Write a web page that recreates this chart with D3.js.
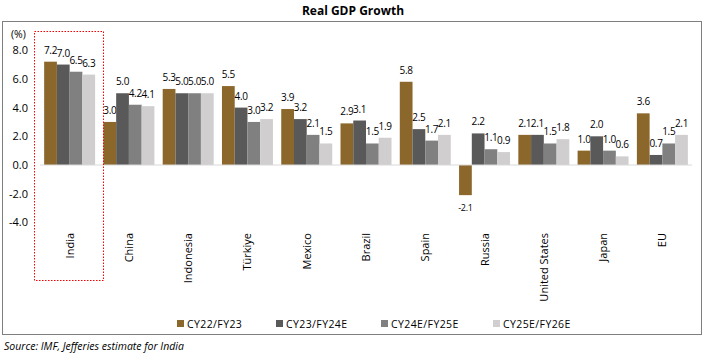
<!doctype html>
<html lang="en">
<head>
<meta charset="UTF-8">
<title>Real GDP Growth</title>
<script src="https://cdn.jsdelivr.net/npm/d3@7"></script>
<style>
body { margin: 0; background: #fff; }
svg text { font-family: "Open Sans", "Noto Sans", sans-serif; fill: #000; }
</style>
</head>
<body>
<script>
var countries = ["India", "China", "Indonesia", "Türkiye", "Mexico", "Brazil", "Spain", "Russia", "United States", "Japan", "EU"];
var seriesNames = ["CY22/FY23", "CY23/FY24E", "CY24E/FY25E", "CY25E/FY26E"];
var cy22 = [7.2, 3.0, 5.3, 5.5, 3.9, 2.9, 5.8, -2.1, 2.1, 1.0, 3.6];
var cy23 = [7.0, 5.0, 5.0, 4.0, 3.2, 3.1, 2.5, 2.2, 2.1, 2.0, 0.7];
var cy24 = [6.5, 4.2, 5.0, 3.0, 2.1, 1.5, 1.7, 1.1, 1.5, 1.0, 1.5];
var cy25 = [6.3, 4.1, 5.0, 3.2, 1.5, 1.9, 2.1, 0.9, 1.8, 0.6, 2.1];
var yTicks = [-4, -2, 0, 2, 4, 6, 8];
var colors = ["#8c672c", "#595959", "#808080", "#d0cece"];

var series = [cy22, cy23, cy24, cy25];
var w = 706, h = 360;
// plain hyphen for negatives, like the original
var fmt = d3.formatLocale({decimal: ".", thousands: ",", grouping: [3], currency: ["", ""], minus: "-"}).format(".1f");

var svg = d3.select("body").append("svg").attr("width", w).attr("height", h);

// outer frame
svg.append("rect").attr("x", 2.5).attr("y", 21.5).attr("width", 699).attr("height", 313)
  .attr("fill", "none").attr("stroke", "#7f7f7f").attr("stroke-width", 1);

svg.append("text").attr("x", 353).attr("y", 15).attr("text-anchor", "middle")
  .attr("font-size", "12px").attr("font-weight", "bold").text("Real GDP Growth");

var x0 = d3.scaleBand().domain(countries).range([40, 692]).paddingInner(0.14).paddingOuter(0.07);
var x1 = d3.scaleBand().domain(d3.range(4)).range([0, x0.bandwidth()]);
var y = d3.scaleLinear().domain([-4, 8]).range([222.4, 50.2]);

// y axis labels
svg.selectAll(".ytick").data(yTicks).enter().append("text")
  .attr("x", 28).attr("y", function(d){ return y(d) + 4; })
  .attr("text-anchor", "end").attr("font-size", "11px")
  .text(function(d){ return fmt(d); });
svg.append("text").attr("x", 11).attr("y", 38).attr("font-size", "10.5px").text("(%)");

// bars
var groups = svg.selectAll(".grp").data(countries).enter().append("g")
  .attr("transform", function(d){ return "translate(" + x0(d) + ",0)"; });

groups.each(function(c, ci){
  var g = d3.select(this);
  series.forEach(function(s, si){
    var v = s[ci];
    g.append("rect")
      .attr("x", x1(si)).attr("width", x1.bandwidth())
      .attr("y", y(Math.max(0, v)))
      .attr("height", Math.abs(y(v) - y(0)))
      .attr("fill", colors[si]);
    g.append("text")
      .attr("x", x1(si) + x1.bandwidth() / 2)
      .attr("y", v >= 0 ? y(v) - 8 : y(v) + 16)
      .attr("text-anchor", "middle").attr("font-size", v >= 0 ? "10px" : "9px")
      .attr("letter-spacing", "-0.3px")
      .text(fmt(v));
  });
});

// zero line
svg.append("line").attr("x1", 40).attr("x2", 692).attr("y1", y(0)).attr("y2", y(0))
  .attr("stroke", "#d9d9d9").attr("stroke-width", 1);

// category labels
svg.selectAll(".cat").data(countries).enter().append("text")
  .attr("transform", function(d){ return "translate(" + (x0(d) + x0.bandwidth() / 2 + 4) + ",233) rotate(-90)"; })
  .attr("text-anchor", "end").attr("font-size", "11px")
  .text(function(d){ return d; });

// India highlight
svg.append("rect").attr("x", 34.5).attr("y", 31.5).attr("width", 69).attr("height", 249)
  .attr("fill", "none").attr("stroke", "#ff0000").attr("stroke-width", 1)
  .attr("stroke-dasharray", "1.5,1.5");

// legend
var legX = [177, 276, 381, 493];
var leg = svg.selectAll(".leg").data(seriesNames).enter().append("g")
  .attr("transform", function(d, i){ return "translate(" + legX[i] + ",320)"; });
leg.append("rect").attr("width", 7).attr("height", 7).attr("fill", function(d, i){ return colors[i]; });
leg.append("text").attr("x", 10).attr("y", 7.5).attr("font-size", "10.5px")
  .attr("letter-spacing", "0.4px").text(function(d){ return d; });

svg.append("text").attr("x", 4).attr("y", 350).attr("font-size", "10.5px")
  .attr("font-style", "italic").text("Source: IMF, Jefferies estimate for India");
</script>
</body>
</html>
